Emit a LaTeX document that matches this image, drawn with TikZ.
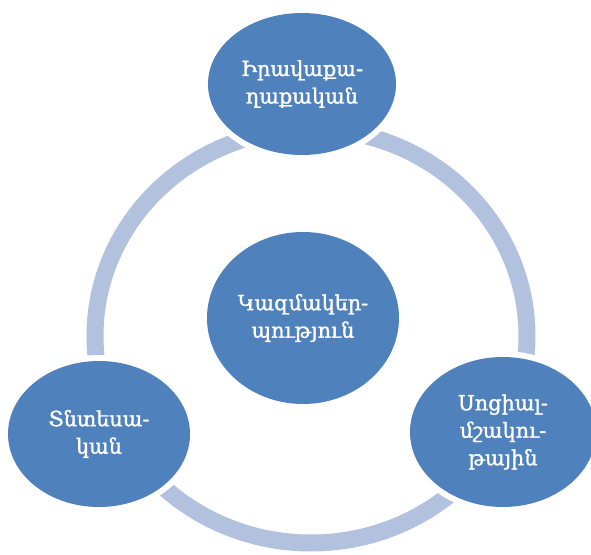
\documentclass[tikz,border=0pt]{standalone}
\usepackage{fontspec}
\newfontfamily\armfont[FakeBold=1.5]{DejaVu Serif}
\usetikzlibrary{shapes.geometric}
\definecolor{nodeblue}{HTML}{4F81BD}
\definecolor{ringblue}{HTML}{B2C2DE}
\tikzset{
  blob/.style={ellipse, fill=nodeblue, draw=none, inner sep=0pt, text=white,
    align=center, font=\armfont\fontsize{20.8}{27.5}\selectfont},
  halo/.style={ellipse, fill=white, draw=none, inner sep=0pt},
  ringline/.style={draw=ringblue, line width=17pt}
}
\begin{document}
\begin{tikzpicture}[x=1pt,y=1pt]
\useasboundingbox (0,0) rectangle (591,554);
\coordinate (rc) at (311,218);
% ring (cut by white gaps round the outer nodes)
\draw[ringline] (rc) ellipse[x radius=216, y radius=207];
% white gaps
\node[halo, minimum width=200pt, minimum height=154pt] (toph) at (302,470) {};
\node[halo, minimum width=194pt, minimum height=158pt] (lefth) at (99,120) {};
\node[halo, minimum width=198pt, minimum height=162pt] (righth) at (503,122) {};
% nodes
\node[blob, minimum width=188pt, minimum height=142pt] (top) at (302,470) {Իրավաքա-\\ղաքական};
\node[blob, minimum width=192pt, minimum height=172pt] (mid) at (303,236) {Կազմակեր-\\պություն};
\node[blob, minimum width=182pt, minimum height=146pt] (left) at (99,120) {Տնտեսա-\\կան};
\node[blob, minimum width=186pt, minimum height=150pt] (right) at (503,122) {Սոցիալ-\\մշակու-\\թային};
\end{tikzpicture}
\end{document}
